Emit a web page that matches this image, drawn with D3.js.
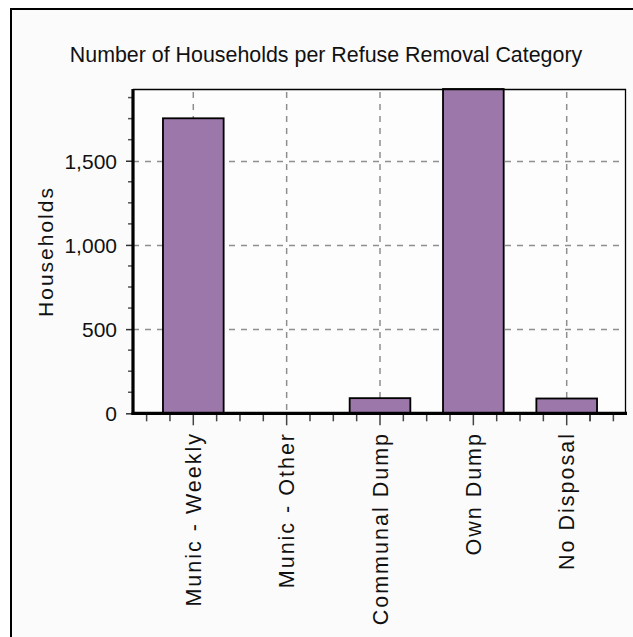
<!DOCTYPE html>
<html>
<head>
<meta charset="utf-8">
<script src="https://cdn.jsdelivr.net/npm/d3@7"></script>
<style>
  html, body { margin: 0; padding: 0; background: #ffffff; }
  svg { display: block; }
  text { font-family: "Liberation Sans", Arial, sans-serif; fill: #111; }
</style>
</head>
<body>
<script>
// ---- data ----
const categories = ["Munic - Weekly", "Munic - Other", "Communal Dump", "Own Dump", "No Disposal"];
const households = [1752, 0, 90, 1926, 88];
const yTickValues = [0, 500, 1000, 1500];
const yMinorStep = 125;
const titleText = "Number of Households per Refuse Removal Category";
const yTitle = "Households";

// ---- layout ----
const W = 633, H = 637;
const plot = { left: 133, right: 626, top: 89, bottom: 413.3 };

const svg = d3.select("body").append("svg").attr("width", W).attr("height", H);

// panel background + frame (top and left edges only visible)
svg.append("rect").attr("x", 11).attr("y", 9).attr("width", W - 11).attr("height", H - 9).attr("fill", "#fbfbfb");
svg.append("line").attr("x1", 10).attr("x2", W).attr("y1", 9).attr("y2", 9).attr("stroke", "#000").attr("stroke-width", 2);
svg.append("line").attr("x1", 11).attr("x2", 11).attr("y1", 8).attr("y2", H).attr("stroke", "#000").attr("stroke-width", 2);

// title
svg.append("text").attr("x", 326).attr("y", 61.5).attr("text-anchor", "middle")
  .style("font-size", "21.4px").text(titleText);

// scales
const x = d3.scaleBand().domain(categories).range([plot.left + 0.5, plot.right + 0.5])
  .paddingInner(0.35).paddingOuter(0.3156);
const step = x.step();
const cx = d => x(d) + x.bandwidth() / 2;
const yMax = d3.max(households);
const y = d3.scaleLinear().domain([0, yMax]).range([plot.bottom, plot.top]);

// plot background (white)
svg.append("rect").attr("x", plot.left).attr("y", plot.top)
  .attr("width", plot.right - plot.left).attr("height", plot.bottom - plot.top).attr("fill", "#fdfdfd");

// grid lines
const grid = svg.append("g").attr("stroke", "#8f8f8f").attr("stroke-width", 1.5).attr("stroke-dasharray", "6,6");
grid.selectAll("line.h").data(yTickValues.filter(v => v > 0)).join("line")
  .attr("class", "h")
  .attr("x1", plot.left).attr("x2", plot.right)
  .attr("y1", d => Math.round(y(d)) + 0.5).attr("y2", d => Math.round(y(d)) + 0.5);
grid.selectAll("line.v").data(categories).join("line")
  .attr("class", "v")
  .attr("x1", d => cx(d)).attr("x2", d => cx(d))
  .attr("y1", plot.top + 3).attr("y2", plot.bottom);

// bars
const rows = categories.map((c, i) => ({ c, v: households[i] }));
svg.append("g").selectAll("rect").data(rows.filter(d => d.v > 0)).join("rect")
  .attr("x", d => x(d.c)).attr("width", x.bandwidth())
  .attr("y", d => y(d.v)).attr("height", d => y(0) - y(d.v))
  .attr("fill", "#9c77aa").attr("stroke", "#000").attr("stroke-width", 1.8);

// plot border top/right
svg.append("path")
  .attr("d", `M${plot.left},${plot.top + 0.5}H${plot.right - 0.5}V${plot.bottom}`)
  .attr("fill", "none").attr("stroke", "#000").attr("stroke-width", 1.3);

// y axis
const yAxis = d3.axisLeft(y).tickValues(yTickValues).tickFormat(d3.format(","))
  .tickSize(7).tickPadding(9);
const gy = svg.append("g").attr("transform", `translate(${plot.left},0)`).call(yAxis);
gy.select(".domain").remove();
gy.selectAll(".tick line").attr("stroke", "#333").attr("stroke-width", 1.5);
gy.selectAll(".tick text").style("font-size", "21px").style("font-family", "Liberation Sans, Arial, sans-serif")
  .attr("fill", "#111").attr("dy", "0.36em");
// minor y ticks
svg.append("g").selectAll("line").data(d3.range(0, yMax, yMinorStep).filter(v => !yTickValues.includes(v))).join("line")
  .attr("x1", plot.left - 5).attr("x2", plot.left)
  .attr("y1", d => y(d)).attr("y2", d => y(d))
  .attr("stroke", "#555").attr("stroke-width", 1.5);

// x ticks (major at centres, minor each quarter step)
const xMinor = [];
categories.forEach(c => [-2, -1, 1].forEach(k => xMinor.push(cx(c) + k * step / 4)));
xMinor.push(cx(categories[categories.length - 1]) + step / 4, cx(categories[categories.length - 1]) + step / 2);
svg.append("g").selectAll("line").data(xMinor).join("line")
  .attr("x1", d => d).attr("x2", d => d)
  .attr("y1", plot.bottom).attr("y2", plot.bottom + 8)
  .attr("stroke", "#444").attr("stroke-width", 1.5);
const xAxis = d3.axisBottom(x).tickSize(12).tickFormat("");
const gx = svg.append("g").attr("transform", `translate(0,${plot.bottom})`).call(xAxis);
gx.select(".domain").remove();
gx.selectAll(".tick line").attr("stroke", "#444").attr("stroke-width", 1.5);

// x labels rotated
svg.append("g").selectAll("text").data(categories).join("text")
  .attr("transform", d => `translate(${cx(d) + 7.7},432) rotate(-90)`)
  .attr("text-anchor", "end")
  .style("font-size", "21.5px").style("letter-spacing", "2px")
  .text(d => d);

// thick axis lines
svg.append("line").attr("x1", plot.left - 1.5).attr("x2", plot.right + 1).attr("y1", plot.bottom).attr("y2", plot.bottom)
  .attr("stroke", "#000").attr("stroke-width", 3.2);
svg.append("line").attr("x1", plot.left).attr("x2", plot.left).attr("y1", plot.top).attr("y2", plot.bottom + 1.5)
  .attr("stroke", "#000").attr("stroke-width", 3.2);

// y title
svg.append("text").attr("transform", `translate(53.3,251.5) rotate(-90)`)
  .attr("text-anchor", "middle").style("font-size", "21px").style("letter-spacing", "2px")
  .text(yTitle);
</script>
</body>
</html>
